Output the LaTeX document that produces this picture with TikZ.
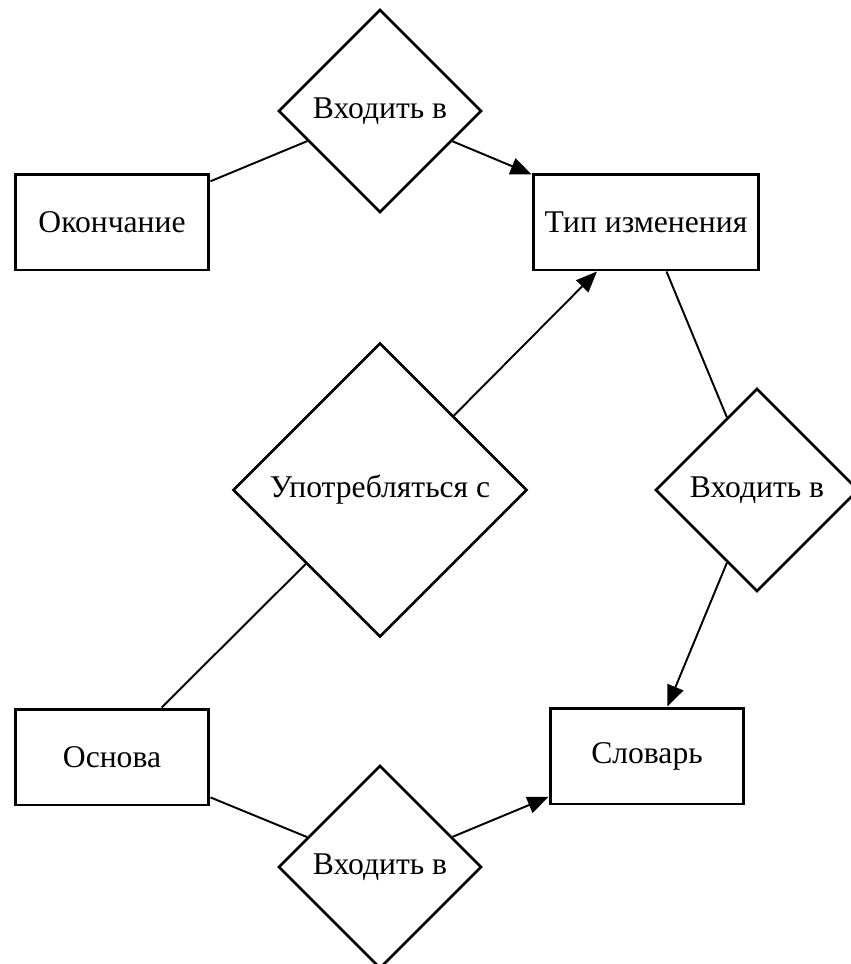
\documentclass[tikz,border=0pt]{standalone}
\usepackage{fontspec}
\setmainfont{Liberation Serif}
\usetikzlibrary{shapes.geometric,arrows.meta}

\begin{document}
\begin{tikzpicture}[x=0.02cm, y=-0.02cm, font=\fontsize{18}{21}\selectfont,
  >={Triangle[length=0.42cm, width=0.34cm]},
  entity/.style={rectangle, draw=black, line width=1.7pt, minimum width=3.88cm, minimum height=1.92cm},
  relation/.style={diamond, draw=black, line width=1.5pt, inner sep=0pt, minimum width=4.06cm, minimum height=4.06cm},
  link/.style={line width=1.1pt}]
  \useasboundingbox (0,0) rectangle (850,964);

  \node[entity] (ending) at (112,222) {Окончание};
  \node[entity, minimum width=4.52cm] (type) at (646,222) {Тип изменения};
  \node[entity] (stem) at (112,757) {Основа};
  \node[entity] (dict) at (647,756) {Словарь};

  \node[relation] (inTop) at (380,111) {Входить в};
  \node[relation, minimum width=5.88cm, minimum height=5.88cm] (usedWith) at (380,490) {Употребляться с};
  \node[relation] (inRight) at (757,490) {Входить в};
  \node[relation] (inBottom) at (380,867) {Входить в};

  \draw[link] (ending)--(inTop);
  \draw[link, ->] (inTop)--(type);
  \draw[link] (stem)--(usedWith);
  \draw[link, ->] (usedWith)--(type);
  \draw[link] (type)--(inRight);
  \draw[link, ->] (inRight)--(dict);
  \draw[link] (stem)--(inBottom);
  \draw[link, ->] (inBottom)--(dict);

\end{tikzpicture}
\end{document}
